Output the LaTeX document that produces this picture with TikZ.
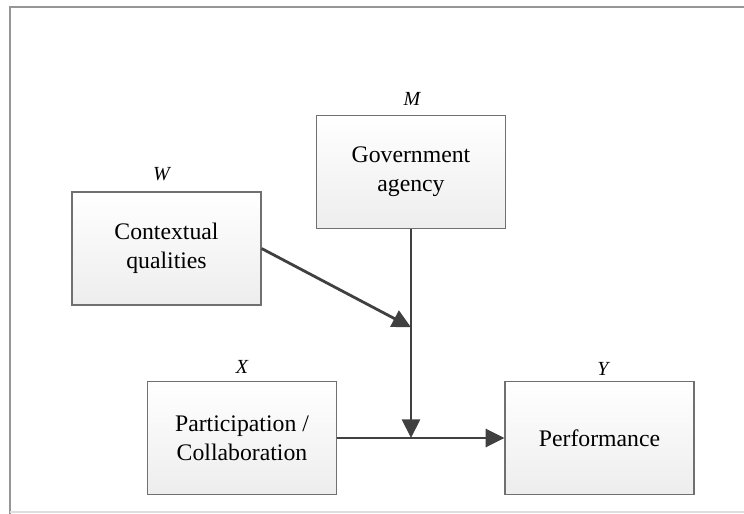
\documentclass[tikz,border=0pt]{standalone}
\usepackage{fontspec}
\setmainfont{Liberation Serif}
\usetikzlibrary{arrows.meta}
\definecolor{boxline}{RGB}{112,112,112}
\definecolor{arrowc}{RGB}{64,64,64}
\definecolor{framec}{RGB}{150,150,150}
\definecolor{framelight}{RGB}{222,222,222}
\begin{document}
\begin{tikzpicture}[x=0.75pt,y=-0.75pt,
  varbox/.style={draw=boxline, line width=0.9pt, top color=white, bottom color=black!7,
    minimum width=141.75pt, minimum height=84.75pt, align=center, inner sep=0pt,
    font=\fontsize{17.8}{22}\selectfont},
  varlab/.style={anchor=base, inner sep=0pt, font=\fontsize{15}{18}\selectfont\itshape},
  link/.style={draw=arrowc, line width=2.1pt, -{Triangle[length=14pt,width=13.5pt]}}]
\useasboundingbox (0,0) rectangle (744,514);
% frame
\draw[framec, line width=1.5pt] (10,514) -- (10,6.8) -- (744,6.8);
\draw[framelight, line width=1.2pt] (10,512) -- (744,512);
% boxes
\node[varbox] (W) at (166.5,248.5) {Contextual\\qualities};
\node[varbox] (M) at (411,172) {Government\\agency};
\node[varbox] (X) at (242,438) {Participation /\\Collaboration};
\node[varbox] (Y) at (599.5,438) {Performance};
% labels
\node[varlab] (Wl) at (161.5,180) {W};
\node[varlab] (Ml) at (412,105) {M};
\node[varlab] (Xl) at (242,373) {X};
\node[varlab] (Yl) at (603,375) {Y};
% junctions
\coordinate (jw) at (411,327.3);
\coordinate (jx) at (411,438);
% connectors
\draw[link] (M.south) -- (jx);
\draw[link] (W.east) -- (jw);
\draw[link] (X.east) -- (Y.west);
\end{tikzpicture}
\end{document}
